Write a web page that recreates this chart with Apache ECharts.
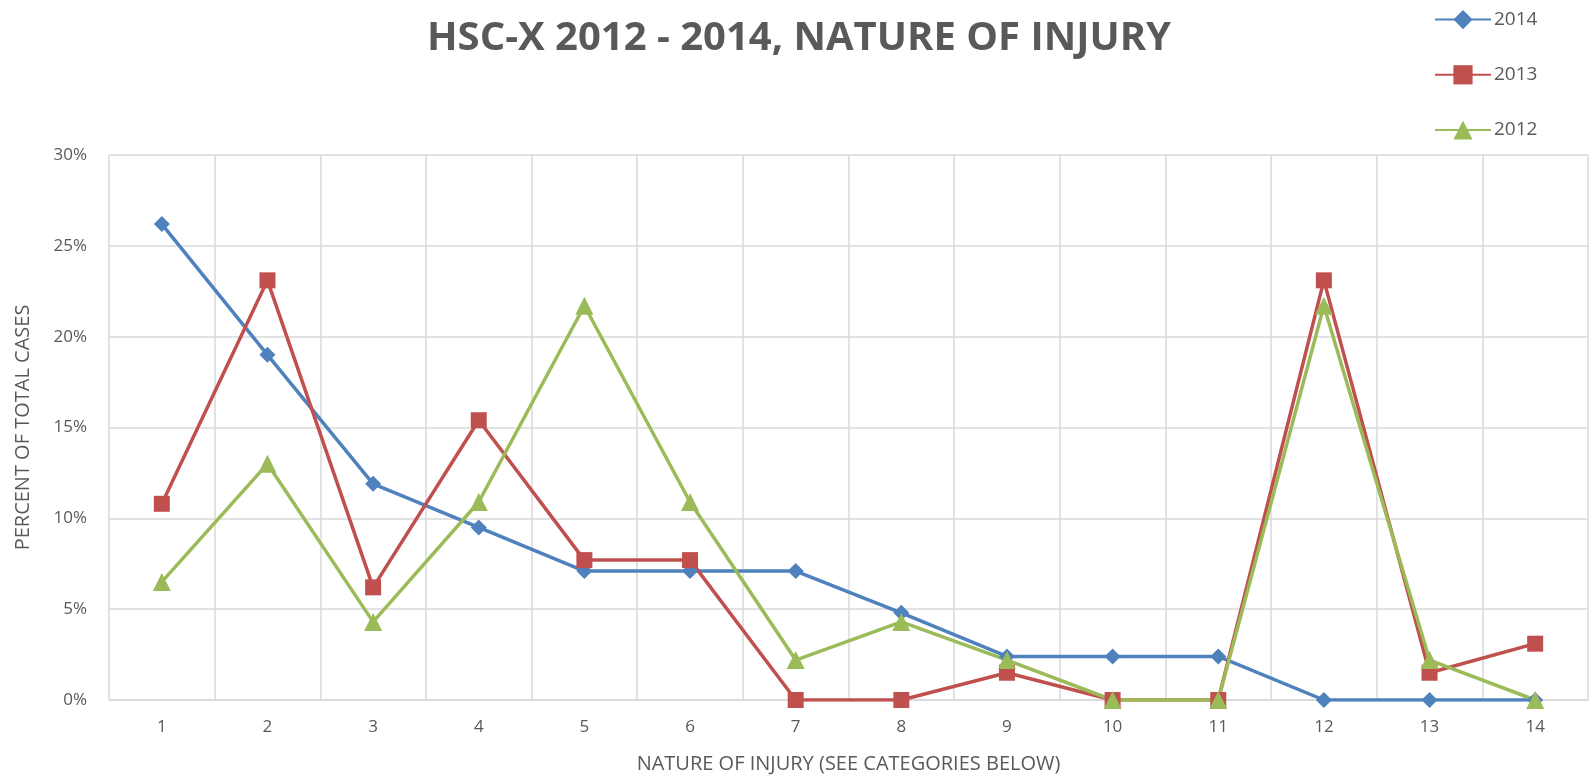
<!DOCTYPE html>
<html>
<head>
<meta charset="utf-8">
<script src="https://cdn.jsdelivr.net/npm/echarts@6/dist/echarts.min.js"></script>
<style>
  html, body { margin: 0; padding: 0; background: #fff; }
  #container { width: 1593px; height: 777px; }
</style>
</head>
<body>
<div id="container"></div>
<script>
var categories = ['1', '2', '3', '4', '5', '6', '7', '8', '9', '10', '11', '12', '13', '14'];
// percent of total cases per year
var values2014 = [26.2, 19.0, 11.9, 9.5, 7.1, 7.1, 7.1, 4.8, 2.4, 2.4, 2.4, 0, 0, 0];
var values2013 = [10.8, 23.1, 6.2, 15.4, 7.7, 7.7, 0, 0, 1.5, 0, 0, 23.1, 1.5, 3.1];
var values2012 = [6.5, 13.0, 4.3, 10.9, 21.7, 10.9, 2.2, 4.3, 2.2, 0, 0, 21.7, 2.2, 0];
var yTicks = [0, 5, 10, 15, 20, 25, 30];

var labelColor = '#595959';
var gridColor = '#d9d9d9';
var font = 'Open Sans';

function makeSeries(name, data, color, symbol, size) {
    return {
        name: name,
        type: 'line',
        data: data,
        symbol: symbol,
        symbolSize: size,
        lineStyle: { color: color, width: 3.5 },
        itemStyle: { color: color },
        emphasis: { disabled: true }
    };
}

var myChart = echarts.init(document.getElementById('container'));
var option = {
    animation: false,
    title: {
        text: 'HSC-X 2012 - 2014, NATURE OF INJURY',
        left: 794,
        top: 14,
        textAlign: 'center',
        textStyle: {
            color: labelColor,
            fontFamily: font,
            fontWeight: 'bold',
            fontSize: 40
        }
    },
    legend: {
        orient: 'vertical',
        left: 1429,
        top: 5,
        itemGap: 36,
        itemWidth: 56,
        itemHeight: 24,
        textStyle: { color: labelColor, fontFamily: font, fontSize: 19, padding: [0, 0, 0, -2] },
        data: ['2014', '2013', '2012']
    },
    grid: { left: 109, right: 5, top: 155, bottom: 77, outerBoundsMode: 'none' },
    xAxis: {
        type: 'category',
        data: categories,
        boundaryGap: true,
        name: 'NATURE OF INJURY (SEE CATEGORIES BELOW)',
        nameLocation: 'middle',
        nameGap: 54,
        nameTextStyle: { color: labelColor, fontFamily: font, fontSize: 20 },
        axisLine: { lineStyle: { color: gridColor, width: 1.5 } },
        axisTick: { show: false },
        axisLabel: { color: labelColor, fontFamily: font, fontSize: 17, margin: 19 },
        splitLine: { show: true, lineStyle: { color: gridColor, width: 1.5 } }
    },
    yAxis: {
        type: 'value',
        min: yTicks[0],
        max: yTicks[yTicks.length - 1],
        interval: 5,
        name: 'PERCENT OF TOTAL CASES',
        nameLocation: 'middle',
        nameGap: 76,
        nameTextStyle: { color: labelColor, fontFamily: font, fontSize: 20 },
        axisLine: { show: false },
        axisTick: { show: false },
        axisLabel: {
            color: labelColor, fontFamily: font, fontSize: 17, margin: 22,
            formatter: function (v) { return v + '%'; }
        },
        splitLine: { lineStyle: { color: gridColor, width: 1.5 } }
    },
    series: [
        makeSeries('2014', values2014, '#4f81bd', 'diamond', 16),
        makeSeries('2013', values2013, '#c0504d', 'rect', 16),
        makeSeries('2012', values2012, '#9bbb59', 'triangle', 18)
    ]
};
myChart.setOption(option);
</script>
</body>
</html>
